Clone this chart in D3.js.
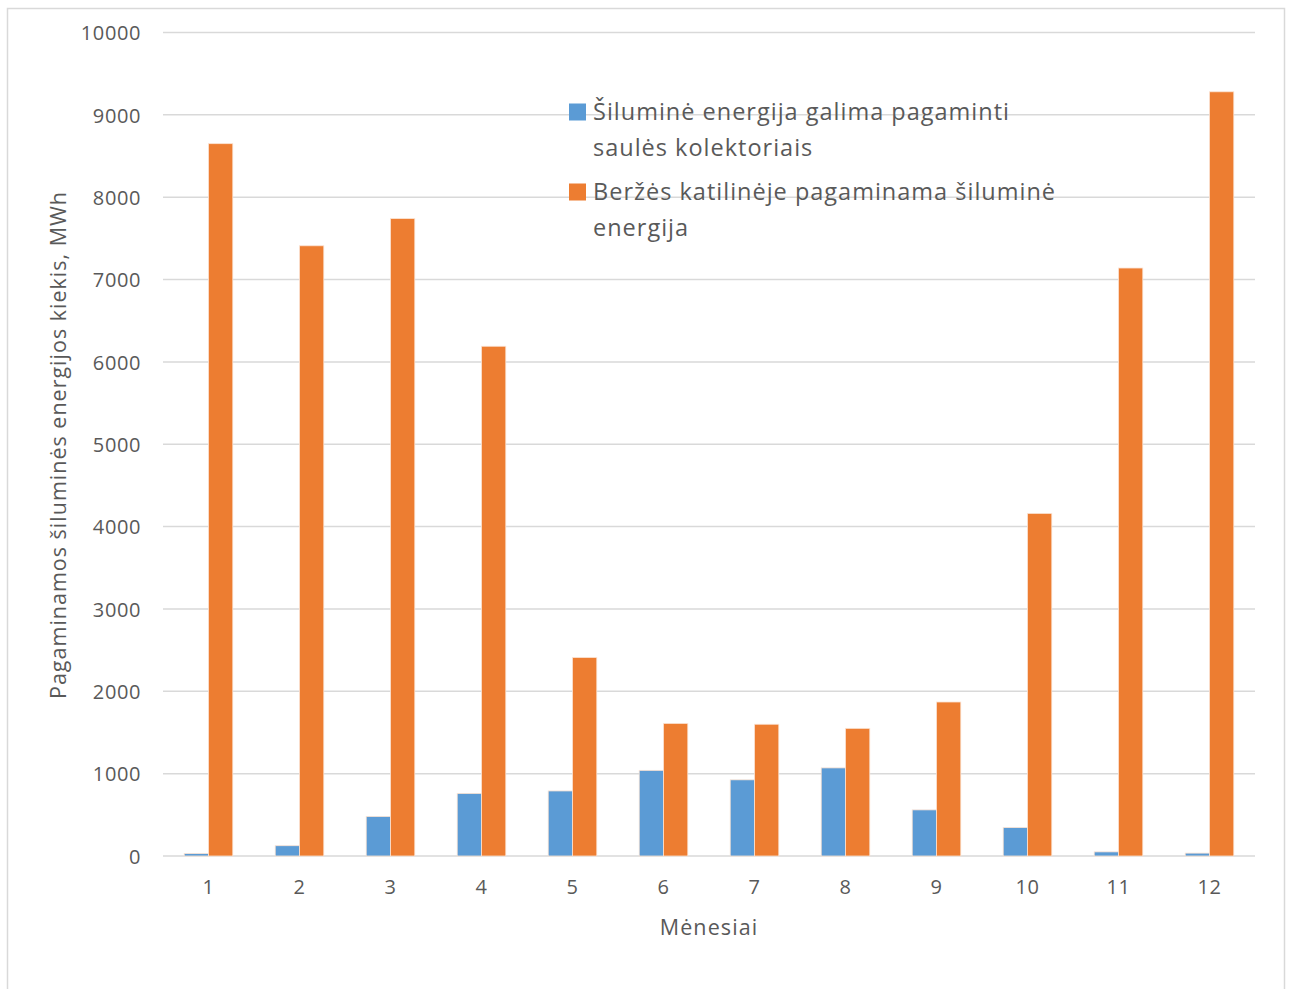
<!DOCTYPE html>
<html>
<head>
<meta charset="utf-8">
<script src="https://cdn.jsdelivr.net/npm/d3@7"></script>
<style>
  html, body { margin: 0; padding: 0; background: #fff; }
  svg { display: block; }
  text { font-family: "Open Sans", sans-serif; fill: #595959; }
</style>
</head>
<body>
<div id="chart"></div>
<script>
// Monthly heat energy, MWh
const months = ["1","2","3","4","5","6","7","8","9","10","11","12"];
const solarValues = [30, 125, 480, 760, 790, 1040, 925, 1070, 560, 345, 50, 35];
const boilerValues = [8650, 7410, 7740, 6190, 2410, 1610, 1600, 1550, 1870, 4160, 7140, 9280];
const yTicks = [0, 1000, 2000, 3000, 4000, 5000, 6000, 7000, 8000, 9000, 10000];
const seriesNames = [
  ["Šiluminė energija galima pagaminti", "saulės kolektoriais"],
  ["Beržės katilinėje pagaminama šiluminė", "energija"]
];
const seriesColors = ["#5B9BD5", "#ED7D31"];

const W = 1291, H = 989;
const plot = { left: 163, right: 1255, top: 32.5, bottom: 856 };
const FONT = "Open Sans";

const svg = d3.select("#chart").append("svg").attr("width", W).attr("height", H);

// chart frame
svg.append("rect")
  .attr("x", 7.5).attr("y", 8.5).attr("width", 1277).attr("height", 990)
  .attr("fill", "#fff").attr("stroke", "#d9d9d9").attr("stroke-width", 1.5);

const x = d3.scaleBand().domain(months).range([plot.left, plot.right]).paddingInner(0.466).paddingOuter(0.233);
const xs = d3.scaleBand().domain([0, 1]).range([0, x.bandwidth()]);
const y = d3.scaleLinear().domain([0, 10000]).range([plot.bottom, plot.top]);

// gridlines
svg.append("g").selectAll("line").data(yTicks).join("line")
  .attr("x1", plot.left).attr("x2", plot.right)
  .attr("y1", d => y(d)).attr("y2", d => y(d))
  .attr("stroke", "#d9d9d9").attr("stroke-width", 1.5);

// y axis labels
const yAxis = svg.append("g").attr("transform", `translate(${plot.left - 22},0)`)
  .call(d3.axisLeft(y).tickValues(yTicks).tickSize(0).tickPadding(0).tickFormat(d3.format("d")));
yAxis.select(".domain").remove();
yAxis.selectAll("text").attr("font-size", 20).attr("font-family", FONT).attr("fill", "#595959")
  .attr("letter-spacing", 0.6).attr("dy", "0.36em");

// x axis labels
const xAxis = svg.append("g").attr("transform", `translate(0,${plot.bottom})`)
  .call(d3.axisBottom(x).tickSize(0).tickPadding(24));
xAxis.select(".domain").remove();
xAxis.selectAll("text").attr("font-size", 20).attr("font-family", FONT).attr("fill", "#595959")
  .attr("letter-spacing", 0.6);

// bars
const rows = months.map((m, i) => ({ m, v: [solarValues[i], boilerValues[i]] }));
const groups = svg.append("g").selectAll("g").data(rows).join("g")
  .attr("transform", d => `translate(${x(d.m)},0)`);
groups.selectAll("rect").data(d => d.v.map((v, k) => ({ v, k }))).join("rect")
  .attr("x", d => xs(d.k))
  .attr("width", xs.bandwidth())
  .attr("y", d => y(d.v))
  .attr("height", d => y(0) - y(d.v))
  .attr("fill", d => seriesColors[d.k])
  .attr("stroke", "#fbe3d3").attr("stroke-width", 0.8);

// legend
const legend = svg.append("g").attr("transform", "translate(569,0)");
const legendRows = [{ y: 112 }, { y: 192 }];
seriesNames.forEach((lines, k) => {
  const cy = legendRows[k].y;
  legend.append("rect").attr("x", 0).attr("y", cy - 8.5).attr("width", 17).attr("height", 17)
    .attr("fill", seriesColors[k]);
  lines.forEach((t, j) => {
    legend.append("text").attr("x", 24).attr("y", cy + j * 36).attr("dy", "0.36em")
      .attr("font-size", 23.5).attr("letter-spacing", 1.0).text(t);
  });
});

// axis titles
svg.append("text")
  .attr("transform", `translate(58,445) rotate(-90)`)
  .attr("text-anchor", "middle").attr("dy", "0.36em")
  .attr("font-size", 21.5).attr("letter-spacing", 1.0)
  .text("Pagaminamos šiluminės energijos kiekis, MWh");

svg.append("text")
  .attr("x", 709).attr("y", 927).attr("text-anchor", "middle").attr("dy", "0.36em")
  .attr("font-size", 21.5).attr("letter-spacing", 1.1).text("Mėnesiai");
</script>
</body>
</html>
